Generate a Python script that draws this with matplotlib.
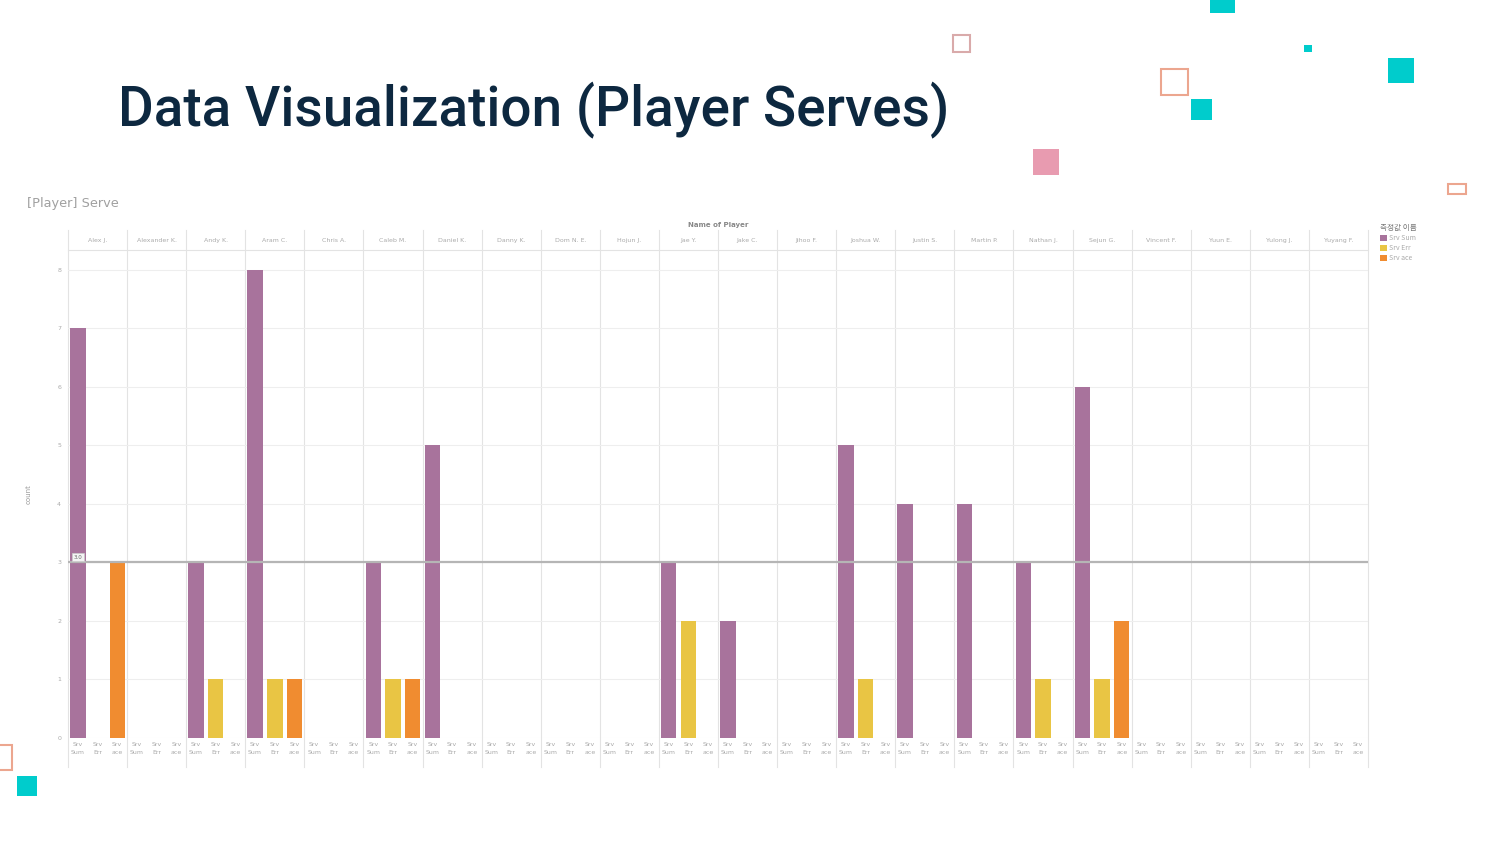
import matplotlib.pyplot as plt
import numpy as np
from matplotlib.patches import Rectangle, Patch
from matplotlib.transforms import blended_transform_factory

# data
players = [
    "Alex J.", "Alexander K.", "Andy K.", "Aram C.", "Chris A.", "Caleb M.",
    "Daniel K.", "Danny K.", "Dom N. E.", "Hojun J.", "Jae Y.", "Jake C.",
    "Jihoo F.", "Joshua W.", "Justin S.", "Martin P.", "Nathan J.", "Sejun G.",
    "Vincent F.", "Yuun E.", "Yulong J.", "Yuyang F.",
]
measures = ["Srv Sum", "Srv Err", "Srv ace"]
srv_sum = [7, 0, 3, 8, 0, 3, 5, 0, 0, 0, 3, 2, 0, 5, 4, 4, 3, 6, 0, 0, 0, 0]
srv_err = [0, 0, 1, 1, 0, 1, 0, 0, 0, 0, 2, 0, 0, 1, 0, 0, 1, 1, 0, 0, 0, 0]
srv_ace = [3, 0, 0, 1, 0, 1, 0, 0, 0, 0, 0, 0, 0, 0, 0, 0, 0, 2, 0, 0, 0, 0]
ref_value = 3.0

colors = ["#a8739c", "#e9c544", "#f08c30"]
W, H = 1500, 844

fig = plt.figure(figsize=(15, 8.44), dpi=100)
fig.patch.set_facecolor("white")


def px(x, y, w=0, h=0):
    # pixel box (top-left origin) -> figure fraction
    return x / W, 1 - (y + h) / H, w / W, h / H


# decorative squares
deco = [
    (1210, 0, 25, 13, "#00cccc", None),
    (953, 35, 17, 17, None, "#d9aaaa"),
    (1304, 45, 8, 7, "#00cccc", None),
    (1388, 58, 26, 25, "#00cccc", None),
    (1161, 69, 27, 26, None, "#eca68f"),
    (1191, 99, 21, 21, "#00cccc", None),
    (1033, 149, 26, 26, "#e89bb0", None),
    (1448, 184, 18, 10, None, "#eca68f"),
    (-2, 745, 14, 25, None, "#eca68f"),
    (17, 776, 20, 20, "#00cccc", None),
]
for x, y, w, h, fc, ec in deco:
    l, b, ww, hh = px(x, y, w, h)
    fig.add_artist(Rectangle((l, b), ww, hh, transform=fig.transFigure,
                             facecolor=fc if fc else "none",
                             edgecolor=ec if ec else "none", linewidth=1.5))

fig.text(118 / W, 1 - 110 / H, "Data Visualization (Player Serves)",
         fontsize=39.5, color="#0d2840", va="center", ha="left",
         family="Roboto", fontweight="medium")

fig.text(27 / W, 1 - 203 / H, "[Player] Serve", fontsize=9.3, color="#a0a0a0",
         va="center", ha="left")

ax = fig.add_axes([68 / W, 1 - 738 / H, 1300 / W, 488 / H])
n = len(players)
x = np.arange(n * 3)
vals = np.array([srv_sum, srv_err, srv_ace]).T.ravel()
cols = [colors[j] for _ in range(n) for j in range(3)]
ax.bar(x, vals, width=0.78, color=cols, zorder=3)

ax.set_xlim(-0.5, n * 3 - 0.5)
ax.set_ylim(0, 8.34)
ax.set_yticks(range(9))
ax.tick_params(axis="y", labelsize=4.5, labelcolor="#aaaaaa", length=0, pad=5)
ax.set_xticks(x)
ax.set_xticklabels([m.replace(" ", "\n") for _ in range(n) for m in measures],
                   fontsize=4.5, color="#aaaaaa", linespacing=1.6)
ax.tick_params(axis="x", length=0, pad=3)
ax.set_ylabel("count", fontsize=5, color="#999999", labelpad=18)
for s in ax.spines.values():
    s.set_visible(False)
ax.grid(axis="y", color="#eeeeee", linewidth=0.8, zorder=0)

# player separators + header row
trans = blended_transform_factory(ax.transData, ax.transAxes)
for i in range(n + 1):
    ax.plot([i * 3 - 0.5] * 2, [-0.06, 1.04], color="#e3e3e3", linewidth=0.8,
            transform=trans, clip_on=False, zorder=1)
for i, name in enumerate(players):
    ax.text(i * 3 + 1, 1.02, name, transform=trans, fontsize=4.5,
            color="#aaaaaa", ha="center", va="center")
ax.plot([-0.5, n * 3 - 0.5], [1.0, 1.0], color="#e3e3e3", linewidth=0.8,
        transform=trans, clip_on=False)
ax.text(0.5, 1.052, "Name of Player", transform=ax.transAxes, fontsize=5,
        color="#888888", ha="center", va="center", fontweight="bold")

# reference line
ax.axhline(ref_value, color="#b5b5b5", linewidth=1.6, zorder=4)
ax.text(0.0, ref_value + 0.05, f"{ref_value:.1f}", fontsize=4, color="#666666",
        va="bottom", ha="center", zorder=5,
        bbox=dict(facecolor="#f4f4f4", edgecolor="#cccccc", linewidth=0.5, pad=1))

# legend
handles = [Patch(facecolor=c, label=m) for c, m in zip(colors, measures)]
leg = fig.legend(handles=handles, title="측정값 이름", loc="upper left",
                 bbox_to_anchor=(1374 / W, 1 - 218 / H), frameon=False,
                 title_fontsize=5.5, handlelength=0.9,
                 handleheight=0.9, handletextpad=0.4, labelspacing=0.3,
                 alignment="left", prop={"family": ["Noto Sans CJK KR", "DejaVu Sans"], "size": 5})
leg.get_title().set_family(["Noto Sans CJK KR", "DejaVu Sans"])
leg.get_title().set_color("#777777")
for t in leg.get_texts():
    t.set_color("#aaaaaa")

fig.savefig("out.png", dpi=100)
